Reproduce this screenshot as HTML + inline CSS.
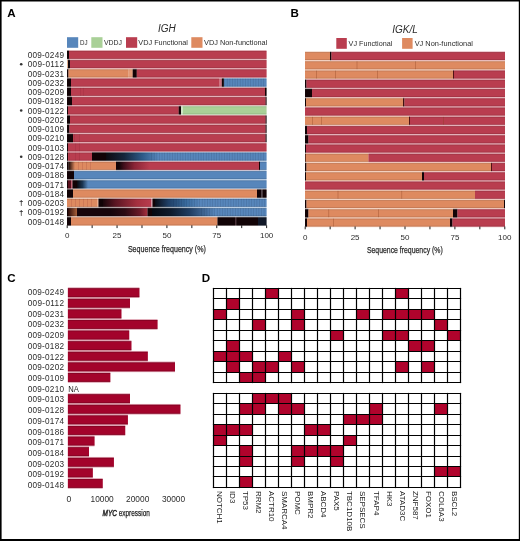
<!DOCTYPE html><html><head><meta charset="utf-8"><style>html,body{margin:0;padding:0;background:#fff;}svg{display:block;will-change:transform;}text{font-family:"Liberation Sans", sans-serif;}</style></head><body><svg width="520" height="541" viewBox="0 0 520 541" font-family='"Liberation Sans", sans-serif'>
<defs><linearGradient id="g12" x1="0" x2="1" y1="0" y2="0"><stop offset="0" stop-color="#0d0a10"/><stop offset="0.35" stop-color="#15263c"/><stop offset="0.7" stop-color="#2e5a88"/><stop offset="1" stop-color="#5786bb"/></linearGradient><linearGradient id="g13" x1="0" x2="1" y1="0" y2="0"><stop offset="0" stop-color="#100407"/><stop offset="0.15" stop-color="#3e0e1a"/><stop offset="0.5" stop-color="#8a2436"/><stop offset="1" stop-color="#b93d4f"/></linearGradient><linearGradient id="g15" x1="0" x2="1" y1="0" y2="0"><stop offset="0" stop-color="#0a0a10"/><stop offset="0.5" stop-color="#1a3552"/><stop offset="1" stop-color="#5786bb"/></linearGradient><linearGradient id="g17a" x1="0" x2="1" y1="0" y2="0"><stop offset="0" stop-color="#1a050a"/><stop offset="0.25" stop-color="#5a1522"/><stop offset="0.7" stop-color="#a5303f"/><stop offset="1" stop-color="#b93d4f"/></linearGradient><linearGradient id="g17b" x1="0" x2="1" y1="0" y2="0"><stop offset="0" stop-color="#0b0d16"/><stop offset="0.3" stop-color="#1f3f66"/><stop offset="0.7" stop-color="#3a6c9f"/><stop offset="1" stop-color="#5786bb"/></linearGradient><linearGradient id="g18a" x1="0" x2="1" y1="0" y2="0"><stop offset="0" stop-color="#14040a"/><stop offset="0.4" stop-color="#2c0a12"/><stop offset="0.8" stop-color="#6a1a28"/><stop offset="1" stop-color="#a8303f"/></linearGradient><linearGradient id="g18b" x1="0" x2="1" y1="0" y2="0"><stop offset="0" stop-color="#050810"/><stop offset="0.3" stop-color="#0d1a2c"/><stop offset="0.6" stop-color="#1f3d62"/><stop offset="1" stop-color="#5786bb"/></linearGradient><linearGradient id="g18c" x1="0" x2="1" y1="0" y2="0"><stop offset="0" stop-color="#2a0a08"/><stop offset="1" stop-color="#a8603a"/></linearGradient><linearGradient id="g13b" x1="0" x2="1" y1="0" y2="0"><stop offset="0" stop-color="#1a0604"/><stop offset="1" stop-color="#de8a60"/></linearGradient></defs>
<rect x="0" y="0" width="520" height="541" fill="#fff"/>
<text x="7.3" y="17.1" font-size="11.6" text-anchor="start" font-weight="bold" fill="#000">A</text>
<text x="166.8" y="31.7" font-size="10" text-anchor="middle" font-style="italic" fill="#2c2c2c">IGH</text>
<rect x="67" y="37.2" width="11.2" height="10.6" fill="#5786bb"/>
<rect x="91.3" y="37.2" width="11.2" height="10.6" fill="#a9d097"/>
<rect x="126" y="37.2" width="11.2" height="10.6" fill="#b93d4f"/>
<rect x="191.3" y="37.2" width="11.2" height="10.6" fill="#de8a60"/>
<text x="80" y="44.6" font-size="7.9" text-anchor="start" fill="#2c2c2c" textLength="7.6" lengthAdjust="spacingAndGlyphs">DJ</text>
<text x="104" y="44.6" font-size="7.9" text-anchor="start" fill="#2c2c2c" textLength="18" lengthAdjust="spacingAndGlyphs">VDDJ</text>
<text x="138.3" y="44.6" font-size="7.9" text-anchor="start" fill="#2c2c2c" textLength="49.6" lengthAdjust="spacingAndGlyphs">VDJ Functional</text>
<text x="204" y="44.6" font-size="7.9" text-anchor="start" fill="#2c2c2c" textLength="63.3" lengthAdjust="spacingAndGlyphs">VDJ Non-functional</text>
<g opacity="0.42">
<rect x="67" y="50.20" width="2.00" height="9.30" fill="#120306"/>
<rect x="69" y="50.20" width="197.50" height="9.30" fill="#b93d4f"/>
</g>
<rect x="67" y="50.90" width="2.00" height="7.9" fill="#120306"/>
<rect x="69" y="50.90" width="197.50" height="7.9" fill="#b93d4f"/>
<rect x="67" y="50.90" width="199.50" height="0.8" fill="#000" opacity="0.13"/>
<rect x="67" y="58.00" width="199.50" height="0.8" fill="#000" opacity="0.13"/>
<text x="64" y="58.20" font-size="8.2" text-anchor="end" fill="#2c2c2c" textLength="36.3" lengthAdjust="spacing">009-0249</text>
<g opacity="0.42">
<rect x="67" y="59.45" width="1.00" height="9.30" fill="#e0b090"/>
<rect x="68" y="59.45" width="2.00" height="9.30" fill="#120306"/>
<rect x="70" y="59.45" width="196.50" height="9.30" fill="#b93d4f"/>
</g>
<rect x="67" y="60.15" width="1.00" height="7.9" fill="#e0b090"/>
<rect x="68" y="60.15" width="2.00" height="7.9" fill="#120306"/>
<rect x="70" y="60.15" width="196.50" height="7.9" fill="#b93d4f"/>
<rect x="67" y="60.15" width="199.50" height="0.8" fill="#000" opacity="0.13"/>
<rect x="67" y="67.25" width="199.50" height="0.8" fill="#000" opacity="0.13"/>
<text x="64" y="67.45" font-size="8.2" text-anchor="end" fill="#2c2c2c" textLength="36.3" lengthAdjust="spacing">009-0112</text>
<circle cx="21.2" cy="64.25" r="1.3" fill="#333"/>
<g opacity="0.42">
<rect x="67" y="68.70" width="1.50" height="9.30" fill="#120306"/>
<rect x="68.5" y="68.70" width="59.70" height="9.30" fill="#de8a60"/>
<rect x="128.2" y="68.70" width="4.50" height="9.30" fill="#e49c78"/>
<rect x="132.7" y="68.70" width="4.10" height="9.30" fill="#120306"/>
<rect x="136.8" y="68.70" width="129.70" height="9.30" fill="#b93d4f"/>
</g>
<rect x="67" y="69.40" width="1.50" height="7.9" fill="#120306"/>
<rect x="68.5" y="69.40" width="59.70" height="7.9" fill="#de8a60"/>
<rect x="128.2" y="69.40" width="4.50" height="7.9" fill="#e49c78"/>
<rect x="132.7" y="69.40" width="4.10" height="7.9" fill="#120306"/>
<rect x="136.8" y="69.40" width="129.70" height="7.9" fill="#b93d4f"/>
<rect x="67" y="69.40" width="199.50" height="0.8" fill="#000" opacity="0.13"/>
<rect x="67" y="76.50" width="199.50" height="0.8" fill="#000" opacity="0.13"/>
<text x="64" y="76.70" font-size="8.2" text-anchor="end" fill="#2c2c2c" textLength="36.3" lengthAdjust="spacing">009-0231</text>
<g opacity="0.42">
<rect x="67" y="77.95" width="4.00" height="9.30" fill="#120306"/>
<rect x="71" y="77.95" width="148.60" height="9.30" fill="#b93d4f"/>
<rect x="219.6" y="77.95" width="2.20" height="9.30" fill="#cf7482"/>
<rect x="221.8" y="77.95" width="2.10" height="9.30" fill="#120306"/>
<rect x="223.9" y="77.95" width="42.60" height="9.30" fill="#5786bb"/>
</g>
<rect x="67" y="78.65" width="4.00" height="7.9" fill="#120306"/>
<rect x="71" y="78.65" width="148.60" height="7.9" fill="#b93d4f"/>
<rect x="219.6" y="78.65" width="2.20" height="7.9" fill="#cf7482"/>
<rect x="221.8" y="78.65" width="2.10" height="7.9" fill="#120306"/>
<rect x="223.9" y="78.65" width="42.60" height="7.9" fill="#5786bb"/>
<rect x="67" y="78.65" width="199.50" height="0.8" fill="#000" opacity="0.13"/>
<rect x="67" y="85.75" width="199.50" height="0.8" fill="#000" opacity="0.13"/>
<rect x="224.30" y="78.65" width="0.7" height="7.9" fill="#0a1a30" opacity="0.16"/>
<rect x="226.90" y="78.65" width="0.7" height="7.9" fill="#0a1a30" opacity="0.16"/>
<rect x="229.50" y="78.65" width="0.7" height="7.9" fill="#0a1a30" opacity="0.16"/>
<rect x="232.10" y="78.65" width="0.7" height="7.9" fill="#0a1a30" opacity="0.16"/>
<rect x="234.70" y="78.65" width="0.7" height="7.9" fill="#0a1a30" opacity="0.16"/>
<rect x="237.30" y="78.65" width="0.7" height="7.9" fill="#0a1a30" opacity="0.16"/>
<rect x="239.90" y="78.65" width="0.7" height="7.9" fill="#0a1a30" opacity="0.16"/>
<rect x="242.50" y="78.65" width="0.7" height="7.9" fill="#0a1a30" opacity="0.16"/>
<rect x="245.10" y="78.65" width="0.7" height="7.9" fill="#0a1a30" opacity="0.16"/>
<rect x="247.70" y="78.65" width="0.7" height="7.9" fill="#0a1a30" opacity="0.16"/>
<rect x="250.30" y="78.65" width="0.7" height="7.9" fill="#0a1a30" opacity="0.16"/>
<rect x="252.90" y="78.65" width="0.7" height="7.9" fill="#0a1a30" opacity="0.16"/>
<rect x="255.50" y="78.65" width="0.7" height="7.9" fill="#0a1a30" opacity="0.16"/>
<rect x="258.10" y="78.65" width="0.7" height="7.9" fill="#0a1a30" opacity="0.16"/>
<rect x="260.70" y="78.65" width="0.7" height="7.9" fill="#0a1a30" opacity="0.16"/>
<rect x="263.30" y="78.65" width="0.7" height="7.9" fill="#0a1a30" opacity="0.16"/>
<text x="64" y="85.95" font-size="8.2" text-anchor="end" fill="#2c2c2c" textLength="36.3" lengthAdjust="spacing">009-0232</text>
<g opacity="0.42">
<rect x="67" y="87.20" width="4.00" height="9.30" fill="#120306"/>
<rect x="71" y="87.20" width="194.00" height="9.30" fill="#b93d4f"/>
<rect x="265" y="87.20" width="1.50" height="9.30" fill="#120306"/>
</g>
<rect x="67" y="87.90" width="4.00" height="7.9" fill="#120306"/>
<rect x="71" y="87.90" width="194.00" height="7.9" fill="#b93d4f"/>
<rect x="265" y="87.90" width="1.50" height="7.9" fill="#120306"/>
<rect x="80" y="87.90" width="0.6" height="7.9" fill="#7a1a28" opacity="0.25"/>
<rect x="83" y="87.90" width="0.6" height="7.9" fill="#7a1a28" opacity="0.25"/>
<rect x="67" y="87.90" width="199.50" height="0.8" fill="#000" opacity="0.13"/>
<rect x="67" y="95.00" width="199.50" height="0.8" fill="#000" opacity="0.13"/>
<text x="64" y="95.20" font-size="8.2" text-anchor="end" fill="#2c2c2c" textLength="36.3" lengthAdjust="spacing">009-0209</text>
<g opacity="0.42">
<rect x="67" y="96.45" width="5.00" height="9.30" fill="#120306"/>
<rect x="72" y="96.45" width="193.60" height="9.30" fill="#b93d4f"/>
<rect x="265.6" y="96.45" width="0.90" height="9.30" fill="#120306"/>
</g>
<rect x="67" y="97.15" width="5.00" height="7.9" fill="#120306"/>
<rect x="72" y="97.15" width="193.60" height="7.9" fill="#b93d4f"/>
<rect x="265.6" y="97.15" width="0.90" height="7.9" fill="#120306"/>
<rect x="67" y="97.15" width="199.50" height="0.8" fill="#000" opacity="0.13"/>
<rect x="67" y="104.25" width="199.50" height="0.8" fill="#000" opacity="0.13"/>
<text x="64" y="104.45" font-size="8.2" text-anchor="end" fill="#2c2c2c" textLength="36.3" lengthAdjust="spacing">009-0182</text>
<g opacity="0.42">
<rect x="67" y="105.70" width="1.00" height="9.30" fill="#120306"/>
<rect x="68" y="105.70" width="110.70" height="9.30" fill="#b93d4f"/>
<rect x="178.7" y="105.70" width="2.30" height="9.30" fill="#120306"/>
<rect x="181" y="105.70" width="2.00" height="9.30" fill="#d0e6c6"/>
<rect x="183" y="105.70" width="83.50" height="9.30" fill="#a9d097"/>
</g>
<rect x="67" y="106.40" width="1.00" height="7.9" fill="#120306"/>
<rect x="68" y="106.40" width="110.70" height="7.9" fill="#b93d4f"/>
<rect x="178.7" y="106.40" width="2.30" height="7.9" fill="#120306"/>
<rect x="181" y="106.40" width="2.00" height="7.9" fill="#d0e6c6"/>
<rect x="183" y="106.40" width="83.50" height="7.9" fill="#a9d097"/>
<rect x="67" y="106.40" width="199.50" height="0.8" fill="#000" opacity="0.13"/>
<rect x="67" y="113.50" width="199.50" height="0.8" fill="#000" opacity="0.13"/>
<text x="64" y="113.70" font-size="8.2" text-anchor="end" fill="#2c2c2c" textLength="36.3" lengthAdjust="spacing">009-0122</text>
<circle cx="21.2" cy="110.50" r="1.3" fill="#333"/>
<g opacity="0.42">
<rect x="67" y="114.95" width="3.00" height="9.30" fill="#120306"/>
<rect x="70" y="114.95" width="195.60" height="9.30" fill="#b93d4f"/>
<rect x="265.6" y="114.95" width="0.90" height="9.30" fill="#120306"/>
</g>
<rect x="67" y="115.65" width="3.00" height="7.9" fill="#120306"/>
<rect x="70" y="115.65" width="195.60" height="7.9" fill="#b93d4f"/>
<rect x="265.6" y="115.65" width="0.90" height="7.9" fill="#120306"/>
<rect x="67" y="115.65" width="199.50" height="0.8" fill="#000" opacity="0.13"/>
<rect x="67" y="122.75" width="199.50" height="0.8" fill="#000" opacity="0.13"/>
<text x="64" y="122.95" font-size="8.2" text-anchor="end" fill="#2c2c2c" textLength="36.3" lengthAdjust="spacing">009-0202</text>
<g opacity="0.42">
<rect x="67" y="124.20" width="2.50" height="9.30" fill="#120306"/>
<rect x="69.5" y="124.20" width="196.10" height="9.30" fill="#b93d4f"/>
<rect x="265.6" y="124.20" width="0.90" height="9.30" fill="#120306"/>
</g>
<rect x="67" y="124.90" width="2.50" height="7.9" fill="#120306"/>
<rect x="69.5" y="124.90" width="196.10" height="7.9" fill="#b93d4f"/>
<rect x="265.6" y="124.90" width="0.90" height="7.9" fill="#120306"/>
<rect x="67" y="124.90" width="199.50" height="0.8" fill="#000" opacity="0.13"/>
<rect x="67" y="132.00" width="199.50" height="0.8" fill="#000" opacity="0.13"/>
<text x="64" y="132.20" font-size="8.2" text-anchor="end" fill="#2c2c2c" textLength="36.3" lengthAdjust="spacing">009-0109</text>
<g opacity="0.42">
<rect x="67" y="133.45" width="6.00" height="9.30" fill="#120306"/>
<rect x="73" y="133.45" width="192.60" height="9.30" fill="#b93d4f"/>
<rect x="265.6" y="133.45" width="0.90" height="9.30" fill="#120306"/>
</g>
<rect x="67" y="134.15" width="6.00" height="7.9" fill="#120306"/>
<rect x="73" y="134.15" width="192.60" height="7.9" fill="#b93d4f"/>
<rect x="265.6" y="134.15" width="0.90" height="7.9" fill="#120306"/>
<rect x="74" y="134.15" width="0.6" height="7.9" fill="#7a1a28" opacity="0.25"/>
<rect x="79" y="134.15" width="0.6" height="7.9" fill="#7a1a28" opacity="0.25"/>
<rect x="67" y="134.15" width="199.50" height="0.8" fill="#000" opacity="0.13"/>
<rect x="67" y="141.25" width="199.50" height="0.8" fill="#000" opacity="0.13"/>
<text x="64" y="141.45" font-size="8.2" text-anchor="end" fill="#2c2c2c" textLength="36.3" lengthAdjust="spacing">009-0210</text>
<g opacity="0.42">
<rect x="67" y="142.70" width="1.00" height="9.30" fill="#120306"/>
<rect x="68" y="142.70" width="198.50" height="9.30" fill="#b93d4f"/>
</g>
<rect x="67" y="143.40" width="1.00" height="7.9" fill="#120306"/>
<rect x="68" y="143.40" width="198.50" height="7.9" fill="#b93d4f"/>
<rect x="75" y="143.40" width="0.6" height="7.9" fill="#7a1a28" opacity="0.25"/>
<rect x="79" y="143.40" width="0.6" height="7.9" fill="#7a1a28" opacity="0.25"/>
<rect x="67" y="143.40" width="199.50" height="0.8" fill="#000" opacity="0.13"/>
<rect x="67" y="150.50" width="199.50" height="0.8" fill="#000" opacity="0.13"/>
<text x="64" y="150.70" font-size="8.2" text-anchor="end" fill="#2c2c2c" textLength="36.3" lengthAdjust="spacing">009-0103</text>
<g opacity="0.42">
<rect x="67" y="151.95" width="1.00" height="9.30" fill="#120306"/>
<rect x="68" y="151.95" width="24.00" height="9.30" fill="#b93d4f"/>
<rect x="92" y="151.95" width="14.00" height="9.30" fill="#120306"/>
<rect x="106" y="151.95" width="52.00" height="9.30" fill="url(#g12)"/>
<rect x="158" y="151.95" width="108.50" height="9.30" fill="#5786bb"/>
</g>
<rect x="67" y="152.65" width="1.00" height="7.9" fill="#120306"/>
<rect x="68" y="152.65" width="24.00" height="7.9" fill="#b93d4f"/>
<rect x="92" y="152.65" width="14.00" height="7.9" fill="#120306"/>
<rect x="106" y="152.65" width="52.00" height="7.9" fill="url(#g12)"/>
<rect x="158" y="152.65" width="108.50" height="7.9" fill="#5786bb"/>
<rect x="69" y="152.65" width="0.6" height="7.9" fill="#7a1a28" opacity="0.25"/>
<rect x="75" y="152.65" width="0.6" height="7.9" fill="#7a1a28" opacity="0.25"/>
<rect x="79" y="152.65" width="0.6" height="7.9" fill="#7a1a28" opacity="0.25"/>
<rect x="67" y="152.65" width="199.50" height="0.8" fill="#000" opacity="0.13"/>
<rect x="67" y="159.75" width="199.50" height="0.8" fill="#000" opacity="0.13"/>
<rect x="151.30" y="152.65" width="0.7" height="7.9" fill="#0a1a30" opacity="0.16"/>
<rect x="153.90" y="152.65" width="0.7" height="7.9" fill="#0a1a30" opacity="0.16"/>
<rect x="156.50" y="152.65" width="0.7" height="7.9" fill="#0a1a30" opacity="0.16"/>
<rect x="159.10" y="152.65" width="0.7" height="7.9" fill="#0a1a30" opacity="0.16"/>
<rect x="161.70" y="152.65" width="0.7" height="7.9" fill="#0a1a30" opacity="0.16"/>
<rect x="164.30" y="152.65" width="0.7" height="7.9" fill="#0a1a30" opacity="0.16"/>
<rect x="166.90" y="152.65" width="0.7" height="7.9" fill="#0a1a30" opacity="0.16"/>
<rect x="169.50" y="152.65" width="0.7" height="7.9" fill="#0a1a30" opacity="0.16"/>
<rect x="172.10" y="152.65" width="0.7" height="7.9" fill="#0a1a30" opacity="0.16"/>
<rect x="174.70" y="152.65" width="0.7" height="7.9" fill="#0a1a30" opacity="0.16"/>
<rect x="177.30" y="152.65" width="0.7" height="7.9" fill="#0a1a30" opacity="0.16"/>
<rect x="179.90" y="152.65" width="0.7" height="7.9" fill="#0a1a30" opacity="0.16"/>
<rect x="182.50" y="152.65" width="0.7" height="7.9" fill="#0a1a30" opacity="0.16"/>
<rect x="185.10" y="152.65" width="0.7" height="7.9" fill="#0a1a30" opacity="0.16"/>
<rect x="187.70" y="152.65" width="0.7" height="7.9" fill="#0a1a30" opacity="0.16"/>
<rect x="190.30" y="152.65" width="0.7" height="7.9" fill="#0a1a30" opacity="0.16"/>
<rect x="192.90" y="152.65" width="0.7" height="7.9" fill="#0a1a30" opacity="0.16"/>
<rect x="195.50" y="152.65" width="0.7" height="7.9" fill="#0a1a30" opacity="0.16"/>
<rect x="198.10" y="152.65" width="0.7" height="7.9" fill="#0a1a30" opacity="0.16"/>
<rect x="200.70" y="152.65" width="0.7" height="7.9" fill="#0a1a30" opacity="0.16"/>
<rect x="203.30" y="152.65" width="0.7" height="7.9" fill="#0a1a30" opacity="0.16"/>
<rect x="205.90" y="152.65" width="0.7" height="7.9" fill="#0a1a30" opacity="0.16"/>
<rect x="208.50" y="152.65" width="0.7" height="7.9" fill="#0a1a30" opacity="0.16"/>
<rect x="211.10" y="152.65" width="0.7" height="7.9" fill="#0a1a30" opacity="0.16"/>
<rect x="213.70" y="152.65" width="0.7" height="7.9" fill="#0a1a30" opacity="0.16"/>
<rect x="216.30" y="152.65" width="0.7" height="7.9" fill="#0a1a30" opacity="0.16"/>
<rect x="218.90" y="152.65" width="0.7" height="7.9" fill="#0a1a30" opacity="0.16"/>
<rect x="221.50" y="152.65" width="0.7" height="7.9" fill="#0a1a30" opacity="0.16"/>
<rect x="224.10" y="152.65" width="0.7" height="7.9" fill="#0a1a30" opacity="0.16"/>
<rect x="226.70" y="152.65" width="0.7" height="7.9" fill="#0a1a30" opacity="0.16"/>
<rect x="229.30" y="152.65" width="0.7" height="7.9" fill="#0a1a30" opacity="0.16"/>
<rect x="231.90" y="152.65" width="0.7" height="7.9" fill="#0a1a30" opacity="0.16"/>
<rect x="234.50" y="152.65" width="0.7" height="7.9" fill="#0a1a30" opacity="0.16"/>
<rect x="237.10" y="152.65" width="0.7" height="7.9" fill="#0a1a30" opacity="0.16"/>
<rect x="239.70" y="152.65" width="0.7" height="7.9" fill="#0a1a30" opacity="0.16"/>
<rect x="242.30" y="152.65" width="0.7" height="7.9" fill="#0a1a30" opacity="0.16"/>
<rect x="244.90" y="152.65" width="0.7" height="7.9" fill="#0a1a30" opacity="0.16"/>
<rect x="247.50" y="152.65" width="0.7" height="7.9" fill="#0a1a30" opacity="0.16"/>
<rect x="250.10" y="152.65" width="0.7" height="7.9" fill="#0a1a30" opacity="0.16"/>
<rect x="252.70" y="152.65" width="0.7" height="7.9" fill="#0a1a30" opacity="0.16"/>
<rect x="255.30" y="152.65" width="0.7" height="7.9" fill="#0a1a30" opacity="0.16"/>
<rect x="257.90" y="152.65" width="0.7" height="7.9" fill="#0a1a30" opacity="0.16"/>
<rect x="260.50" y="152.65" width="0.7" height="7.9" fill="#0a1a30" opacity="0.16"/>
<rect x="263.10" y="152.65" width="0.7" height="7.9" fill="#0a1a30" opacity="0.16"/>
<text x="64" y="159.95" font-size="8.2" text-anchor="end" fill="#2c2c2c" textLength="36.3" lengthAdjust="spacing">009-0128</text>
<circle cx="21.2" cy="156.75" r="1.3" fill="#333"/>
<g opacity="0.42">
<rect x="67" y="161.20" width="1.50" height="9.30" fill="#120306"/>
<rect x="68.5" y="161.20" width="6.50" height="9.30" fill="url(#g13b)"/>
<rect x="75" y="161.20" width="41.00" height="9.30" fill="#de8a60"/>
<rect x="116" y="161.20" width="3.00" height="9.30" fill="#120306"/>
<rect x="119" y="161.20" width="31.00" height="9.30" fill="url(#g13)"/>
<rect x="150" y="161.20" width="109.00" height="9.30" fill="#b93d4f"/>
<rect x="259" y="161.20" width="1.00" height="9.30" fill="#120306"/>
<rect x="260" y="161.20" width="6.50" height="9.30" fill="#5786bb"/>
</g>
<rect x="67" y="161.90" width="1.50" height="7.9" fill="#120306"/>
<rect x="68.5" y="161.90" width="6.50" height="7.9" fill="url(#g13b)"/>
<rect x="75" y="161.90" width="41.00" height="7.9" fill="#de8a60"/>
<rect x="116" y="161.90" width="3.00" height="7.9" fill="#120306"/>
<rect x="119" y="161.90" width="31.00" height="7.9" fill="url(#g13)"/>
<rect x="150" y="161.90" width="109.00" height="7.9" fill="#b93d4f"/>
<rect x="259" y="161.90" width="1.00" height="7.9" fill="#120306"/>
<rect x="260" y="161.90" width="6.50" height="7.9" fill="#5786bb"/>
<rect x="78" y="161.90" width="0.6" height="7.9" fill="#7a1a28" opacity="0.25"/>
<rect x="82" y="161.90" width="0.6" height="7.9" fill="#7a1a28" opacity="0.25"/>
<rect x="86" y="161.90" width="0.6" height="7.9" fill="#7a1a28" opacity="0.25"/>
<rect x="90" y="161.90" width="0.6" height="7.9" fill="#7a1a28" opacity="0.25"/>
<rect x="67" y="161.90" width="199.50" height="0.8" fill="#000" opacity="0.13"/>
<rect x="67" y="169.00" width="199.50" height="0.8" fill="#000" opacity="0.13"/>
<text x="64" y="169.20" font-size="8.2" text-anchor="end" fill="#2c2c2c" textLength="36.3" lengthAdjust="spacing">009-0174</text>
<g opacity="0.42">
<rect x="67" y="170.45" width="7.00" height="9.30" fill="#120306"/>
<rect x="74" y="170.45" width="192.50" height="9.30" fill="#5786bb"/>
</g>
<rect x="67" y="171.15" width="7.00" height="7.9" fill="#120306"/>
<rect x="74" y="171.15" width="192.50" height="7.9" fill="#5786bb"/>
<rect x="67" y="171.15" width="199.50" height="0.8" fill="#000" opacity="0.13"/>
<rect x="67" y="178.25" width="199.50" height="0.8" fill="#000" opacity="0.13"/>
<text x="64" y="178.45" font-size="8.2" text-anchor="end" fill="#2c2c2c" textLength="36.3" lengthAdjust="spacing">009-0186</text>
<g opacity="0.42">
<rect x="67" y="179.70" width="1.00" height="9.30" fill="#120306"/>
<rect x="68" y="179.70" width="3.00" height="9.30" fill="#5a0f1c"/>
<rect x="71" y="179.70" width="1.50" height="9.30" fill="#c06070"/>
<rect x="72.5" y="179.70" width="4.50" height="9.30" fill="#120306"/>
<rect x="77" y="179.70" width="11.00" height="9.30" fill="url(#g15)"/>
<rect x="88" y="179.70" width="178.50" height="9.30" fill="#5786bb"/>
</g>
<rect x="67" y="180.40" width="1.00" height="7.9" fill="#120306"/>
<rect x="68" y="180.40" width="3.00" height="7.9" fill="#5a0f1c"/>
<rect x="71" y="180.40" width="1.50" height="7.9" fill="#c06070"/>
<rect x="72.5" y="180.40" width="4.50" height="7.9" fill="#120306"/>
<rect x="77" y="180.40" width="11.00" height="7.9" fill="url(#g15)"/>
<rect x="88" y="180.40" width="178.50" height="7.9" fill="#5786bb"/>
<rect x="67" y="180.40" width="199.50" height="0.8" fill="#000" opacity="0.13"/>
<rect x="67" y="187.50" width="199.50" height="0.8" fill="#000" opacity="0.13"/>
<text x="64" y="187.70" font-size="8.2" text-anchor="end" fill="#2c2c2c" textLength="36.3" lengthAdjust="spacing">009-0171</text>
<g opacity="0.42">
<rect x="67" y="188.95" width="6.00" height="9.30" fill="#120306"/>
<rect x="73" y="188.95" width="184.00" height="9.30" fill="#de8a60"/>
<rect x="257" y="188.95" width="4.50" height="9.30" fill="#120306"/>
<rect x="261.5" y="188.95" width="1.00" height="9.30" fill="#403038"/>
<rect x="262.5" y="188.95" width="4.00" height="9.30" fill="#120306"/>
</g>
<rect x="67" y="189.65" width="6.00" height="7.9" fill="#120306"/>
<rect x="73" y="189.65" width="184.00" height="7.9" fill="#de8a60"/>
<rect x="257" y="189.65" width="4.50" height="7.9" fill="#120306"/>
<rect x="261.5" y="189.65" width="1.00" height="7.9" fill="#403038"/>
<rect x="262.5" y="189.65" width="4.00" height="7.9" fill="#120306"/>
<rect x="67" y="189.65" width="199.50" height="0.8" fill="#000" opacity="0.13"/>
<rect x="67" y="196.75" width="199.50" height="0.8" fill="#000" opacity="0.13"/>
<text x="64" y="196.95" font-size="8.2" text-anchor="end" fill="#2c2c2c" textLength="36.3" lengthAdjust="spacing">009-0184</text>
<g opacity="0.42">
<rect x="67" y="198.20" width="30.00" height="9.30" fill="#de8a60"/>
<rect x="97" y="198.20" width="1.50" height="9.30" fill="#f0b090"/>
<rect x="98.5" y="198.20" width="4.50" height="9.30" fill="#120306"/>
<rect x="103" y="198.20" width="48.50" height="9.30" fill="url(#g17a)"/>
<rect x="151.5" y="198.20" width="1.00" height="9.30" fill="#e0a0b0"/>
<rect x="152.5" y="198.20" width="2.50" height="9.30" fill="#120306"/>
<rect x="155" y="198.20" width="45.00" height="9.30" fill="url(#g17b)"/>
<rect x="200" y="198.20" width="66.50" height="9.30" fill="#5786bb"/>
</g>
<rect x="67" y="198.90" width="30.00" height="7.9" fill="#de8a60"/>
<rect x="97" y="198.90" width="1.50" height="7.9" fill="#f0b090"/>
<rect x="98.5" y="198.90" width="4.50" height="7.9" fill="#120306"/>
<rect x="103" y="198.90" width="48.50" height="7.9" fill="url(#g17a)"/>
<rect x="151.5" y="198.90" width="1.00" height="7.9" fill="#e0a0b0"/>
<rect x="152.5" y="198.90" width="2.50" height="7.9" fill="#120306"/>
<rect x="155" y="198.90" width="45.00" height="7.9" fill="url(#g17b)"/>
<rect x="200" y="198.90" width="66.50" height="7.9" fill="#5786bb"/>
<rect x="71" y="198.90" width="0.6" height="7.9" fill="#7a1a28" opacity="0.25"/>
<rect x="75" y="198.90" width="0.6" height="7.9" fill="#7a1a28" opacity="0.25"/>
<rect x="79" y="198.90" width="0.6" height="7.9" fill="#7a1a28" opacity="0.25"/>
<rect x="83" y="198.90" width="0.6" height="7.9" fill="#7a1a28" opacity="0.25"/>
<rect x="87" y="198.90" width="0.6" height="7.9" fill="#7a1a28" opacity="0.25"/>
<rect x="91" y="198.90" width="0.6" height="7.9" fill="#7a1a28" opacity="0.25"/>
<rect x="67" y="198.90" width="199.50" height="0.8" fill="#000" opacity="0.13"/>
<rect x="67" y="206.00" width="199.50" height="0.8" fill="#000" opacity="0.13"/>
<rect x="173.30" y="198.90" width="0.7" height="7.9" fill="#0a1a30" opacity="0.16"/>
<rect x="175.90" y="198.90" width="0.7" height="7.9" fill="#0a1a30" opacity="0.16"/>
<rect x="178.50" y="198.90" width="0.7" height="7.9" fill="#0a1a30" opacity="0.16"/>
<rect x="181.10" y="198.90" width="0.7" height="7.9" fill="#0a1a30" opacity="0.16"/>
<rect x="183.70" y="198.90" width="0.7" height="7.9" fill="#0a1a30" opacity="0.16"/>
<rect x="186.30" y="198.90" width="0.7" height="7.9" fill="#0a1a30" opacity="0.16"/>
<rect x="188.90" y="198.90" width="0.7" height="7.9" fill="#0a1a30" opacity="0.16"/>
<rect x="191.50" y="198.90" width="0.7" height="7.9" fill="#0a1a30" opacity="0.16"/>
<rect x="194.10" y="198.90" width="0.7" height="7.9" fill="#0a1a30" opacity="0.16"/>
<rect x="196.70" y="198.90" width="0.7" height="7.9" fill="#0a1a30" opacity="0.16"/>
<rect x="199.30" y="198.90" width="0.7" height="7.9" fill="#0a1a30" opacity="0.16"/>
<rect x="201.90" y="198.90" width="0.7" height="7.9" fill="#0a1a30" opacity="0.16"/>
<rect x="204.50" y="198.90" width="0.7" height="7.9" fill="#0a1a30" opacity="0.16"/>
<rect x="207.10" y="198.90" width="0.7" height="7.9" fill="#0a1a30" opacity="0.16"/>
<rect x="209.70" y="198.90" width="0.7" height="7.9" fill="#0a1a30" opacity="0.16"/>
<rect x="212.30" y="198.90" width="0.7" height="7.9" fill="#0a1a30" opacity="0.16"/>
<rect x="214.90" y="198.90" width="0.7" height="7.9" fill="#0a1a30" opacity="0.16"/>
<rect x="217.50" y="198.90" width="0.7" height="7.9" fill="#0a1a30" opacity="0.16"/>
<rect x="220.10" y="198.90" width="0.7" height="7.9" fill="#0a1a30" opacity="0.16"/>
<rect x="222.70" y="198.90" width="0.7" height="7.9" fill="#0a1a30" opacity="0.16"/>
<rect x="225.30" y="198.90" width="0.7" height="7.9" fill="#0a1a30" opacity="0.16"/>
<rect x="227.90" y="198.90" width="0.7" height="7.9" fill="#0a1a30" opacity="0.16"/>
<rect x="230.50" y="198.90" width="0.7" height="7.9" fill="#0a1a30" opacity="0.16"/>
<rect x="233.10" y="198.90" width="0.7" height="7.9" fill="#0a1a30" opacity="0.16"/>
<rect x="235.70" y="198.90" width="0.7" height="7.9" fill="#0a1a30" opacity="0.16"/>
<rect x="238.30" y="198.90" width="0.7" height="7.9" fill="#0a1a30" opacity="0.16"/>
<rect x="240.90" y="198.90" width="0.7" height="7.9" fill="#0a1a30" opacity="0.16"/>
<rect x="243.50" y="198.90" width="0.7" height="7.9" fill="#0a1a30" opacity="0.16"/>
<rect x="246.10" y="198.90" width="0.7" height="7.9" fill="#0a1a30" opacity="0.16"/>
<rect x="248.70" y="198.90" width="0.7" height="7.9" fill="#0a1a30" opacity="0.16"/>
<rect x="251.30" y="198.90" width="0.7" height="7.9" fill="#0a1a30" opacity="0.16"/>
<rect x="253.90" y="198.90" width="0.7" height="7.9" fill="#0a1a30" opacity="0.16"/>
<rect x="256.50" y="198.90" width="0.7" height="7.9" fill="#0a1a30" opacity="0.16"/>
<rect x="259.10" y="198.90" width="0.7" height="7.9" fill="#0a1a30" opacity="0.16"/>
<rect x="261.70" y="198.90" width="0.7" height="7.9" fill="#0a1a30" opacity="0.16"/>
<rect x="264.30" y="198.90" width="0.7" height="7.9" fill="#0a1a30" opacity="0.16"/>
<text x="64" y="206.20" font-size="8.2" text-anchor="end" fill="#2c2c2c" textLength="36.3" lengthAdjust="spacing">009-0203</text>
<text x="21.3" y="205.40" font-size="8" text-anchor="middle" font-weight="bold" fill="#2c2c2c">†</text>
<g opacity="0.42">
<rect x="67" y="207.45" width="1.00" height="9.30" fill="#120306"/>
<rect x="68" y="207.45" width="9.00" height="9.30" fill="url(#g18c)"/>
<rect x="77" y="207.45" width="33.00" height="9.30" fill="#16040a"/>
<rect x="110" y="207.45" width="37.50" height="9.30" fill="url(#g18a)"/>
<rect x="147.5" y="207.45" width="4.50" height="9.30" fill="#120306"/>
<rect x="152" y="207.45" width="63.00" height="9.30" fill="url(#g18b)"/>
<rect x="215" y="207.45" width="51.50" height="9.30" fill="#5786bb"/>
</g>
<rect x="67" y="208.15" width="1.00" height="7.9" fill="#120306"/>
<rect x="68" y="208.15" width="9.00" height="7.9" fill="url(#g18c)"/>
<rect x="77" y="208.15" width="33.00" height="7.9" fill="#16040a"/>
<rect x="110" y="208.15" width="37.50" height="7.9" fill="url(#g18a)"/>
<rect x="147.5" y="208.15" width="4.50" height="7.9" fill="#120306"/>
<rect x="152" y="208.15" width="63.00" height="7.9" fill="url(#g18b)"/>
<rect x="215" y="208.15" width="51.50" height="7.9" fill="#5786bb"/>
<rect x="67" y="208.15" width="199.50" height="0.8" fill="#000" opacity="0.13"/>
<rect x="67" y="215.25" width="199.50" height="0.8" fill="#000" opacity="0.13"/>
<rect x="201.30" y="208.15" width="0.7" height="7.9" fill="#0a1a30" opacity="0.16"/>
<rect x="203.90" y="208.15" width="0.7" height="7.9" fill="#0a1a30" opacity="0.16"/>
<rect x="206.50" y="208.15" width="0.7" height="7.9" fill="#0a1a30" opacity="0.16"/>
<rect x="209.10" y="208.15" width="0.7" height="7.9" fill="#0a1a30" opacity="0.16"/>
<rect x="211.70" y="208.15" width="0.7" height="7.9" fill="#0a1a30" opacity="0.16"/>
<rect x="214.30" y="208.15" width="0.7" height="7.9" fill="#0a1a30" opacity="0.16"/>
<rect x="216.90" y="208.15" width="0.7" height="7.9" fill="#0a1a30" opacity="0.16"/>
<rect x="219.50" y="208.15" width="0.7" height="7.9" fill="#0a1a30" opacity="0.16"/>
<rect x="222.10" y="208.15" width="0.7" height="7.9" fill="#0a1a30" opacity="0.16"/>
<rect x="224.70" y="208.15" width="0.7" height="7.9" fill="#0a1a30" opacity="0.16"/>
<rect x="227.30" y="208.15" width="0.7" height="7.9" fill="#0a1a30" opacity="0.16"/>
<rect x="229.90" y="208.15" width="0.7" height="7.9" fill="#0a1a30" opacity="0.16"/>
<rect x="232.50" y="208.15" width="0.7" height="7.9" fill="#0a1a30" opacity="0.16"/>
<rect x="235.10" y="208.15" width="0.7" height="7.9" fill="#0a1a30" opacity="0.16"/>
<rect x="237.70" y="208.15" width="0.7" height="7.9" fill="#0a1a30" opacity="0.16"/>
<rect x="240.30" y="208.15" width="0.7" height="7.9" fill="#0a1a30" opacity="0.16"/>
<rect x="242.90" y="208.15" width="0.7" height="7.9" fill="#0a1a30" opacity="0.16"/>
<rect x="245.50" y="208.15" width="0.7" height="7.9" fill="#0a1a30" opacity="0.16"/>
<rect x="248.10" y="208.15" width="0.7" height="7.9" fill="#0a1a30" opacity="0.16"/>
<rect x="250.70" y="208.15" width="0.7" height="7.9" fill="#0a1a30" opacity="0.16"/>
<rect x="253.30" y="208.15" width="0.7" height="7.9" fill="#0a1a30" opacity="0.16"/>
<rect x="255.90" y="208.15" width="0.7" height="7.9" fill="#0a1a30" opacity="0.16"/>
<rect x="258.50" y="208.15" width="0.7" height="7.9" fill="#0a1a30" opacity="0.16"/>
<rect x="261.10" y="208.15" width="0.7" height="7.9" fill="#0a1a30" opacity="0.16"/>
<rect x="263.70" y="208.15" width="0.7" height="7.9" fill="#0a1a30" opacity="0.16"/>
<text x="64" y="215.45" font-size="8.2" text-anchor="end" fill="#2c2c2c" textLength="36.3" lengthAdjust="spacing">009-0192</text>
<text x="21.3" y="214.65" font-size="8" text-anchor="middle" font-weight="bold" fill="#2c2c2c">†</text>
<g opacity="0.42">
<rect x="67" y="216.70" width="4.00" height="9.30" fill="#120306"/>
<rect x="71" y="216.70" width="146.50" height="9.30" fill="#de8a60"/>
<rect x="217.5" y="216.70" width="17.50" height="9.30" fill="#120306"/>
<rect x="235" y="216.70" width="1.20" height="9.30" fill="#4a3038"/>
<rect x="236.2" y="216.70" width="21.80" height="9.30" fill="#120306"/>
<rect x="258" y="216.70" width="8.50" height="9.30" fill="#101828"/>
</g>
<rect x="67" y="217.40" width="4.00" height="7.9" fill="#120306"/>
<rect x="71" y="217.40" width="146.50" height="7.9" fill="#de8a60"/>
<rect x="217.5" y="217.40" width="17.50" height="7.9" fill="#120306"/>
<rect x="235" y="217.40" width="1.20" height="7.9" fill="#4a3038"/>
<rect x="236.2" y="217.40" width="21.80" height="7.9" fill="#120306"/>
<rect x="258" y="217.40" width="8.50" height="7.9" fill="#101828"/>
<rect x="67" y="217.40" width="199.50" height="0.8" fill="#000" opacity="0.13"/>
<rect x="67" y="224.50" width="199.50" height="0.8" fill="#000" opacity="0.13"/>
<text x="64" y="224.70" font-size="8.2" text-anchor="end" fill="#2c2c2c" textLength="36.3" lengthAdjust="spacing">009-0148</text>
<line x1="67.20" y1="225.30" x2="67.20" y2="228.10" stroke="#000" stroke-width="0.9"/>
<line x1="92.13" y1="225.30" x2="92.13" y2="228.10" stroke="#000" stroke-width="0.9"/>
<line x1="117.06" y1="225.30" x2="117.06" y2="228.10" stroke="#000" stroke-width="0.9"/>
<line x1="141.99" y1="225.30" x2="141.99" y2="228.10" stroke="#000" stroke-width="0.9"/>
<line x1="166.92" y1="225.30" x2="166.92" y2="228.10" stroke="#000" stroke-width="0.9"/>
<line x1="191.85" y1="225.30" x2="191.85" y2="228.10" stroke="#000" stroke-width="0.9"/>
<line x1="216.78" y1="225.30" x2="216.78" y2="228.10" stroke="#000" stroke-width="0.9"/>
<line x1="241.71" y1="225.30" x2="241.71" y2="228.10" stroke="#000" stroke-width="0.9"/>
<line x1="266.64" y1="225.30" x2="266.64" y2="228.10" stroke="#000" stroke-width="0.9"/>
<text x="67.20" y="237.8" font-size="8.0" text-anchor="middle" fill="#2c2c2c">0</text>
<text x="117.06" y="237.8" font-size="8.0" text-anchor="middle" fill="#2c2c2c">25</text>
<text x="166.92" y="237.8" font-size="8.0" text-anchor="middle" fill="#2c2c2c">50</text>
<text x="216.78" y="237.8" font-size="8.0" text-anchor="middle" fill="#2c2c2c">75</text>
<text x="266.64" y="237.8" font-size="8.0" text-anchor="middle" fill="#2c2c2c">100</text>
<text x="166.9" y="251.6" font-size="9.6" text-anchor="middle" fill="#2c2c2c" textLength="78" lengthAdjust="spacingAndGlyphs" stroke="#222" stroke-width="0.25">Sequence frequency (%)</text>
<text x="290.5" y="16.9" font-size="11.6" text-anchor="start" font-weight="bold" fill="#000">B</text>
<text x="405" y="33.2" font-size="10" text-anchor="middle" font-style="italic" fill="#2c2c2c">IGK/L</text>
<rect x="336.3" y="38.0" width="10.5" height="10.8" fill="#b93d4f"/>
<rect x="402.1" y="38.0" width="10.5" height="10.8" fill="#de8a60"/>
<text x="348.6" y="45.9" font-size="7.9" text-anchor="start" fill="#2c2c2c" textLength="43.7" lengthAdjust="spacingAndGlyphs">VJ Functional</text>
<text x="414.7" y="45.9" font-size="7.9" text-anchor="start" fill="#2c2c2c" textLength="58.3" lengthAdjust="spacingAndGlyphs">VJ Non-functional</text>
<g opacity="0.42">
<rect x="305" y="51.40" width="25.00" height="9.30" fill="#de8a60"/>
<rect x="330" y="51.40" width="1.50" height="9.30" fill="#120306"/>
<rect x="331.5" y="51.40" width="173.50" height="9.30" fill="#b93d4f"/>
</g>
<rect x="305" y="52.10" width="25.00" height="7.9" fill="#de8a60"/>
<rect x="330" y="52.10" width="1.50" height="7.9" fill="#120306"/>
<rect x="331.5" y="52.10" width="173.50" height="7.9" fill="#b93d4f"/>
<rect x="305" y="52.10" width="200.00" height="0.8" fill="#000" opacity="0.13"/>
<rect x="305" y="59.20" width="200.00" height="0.8" fill="#000" opacity="0.13"/>
<g opacity="0.42">
<rect x="305" y="60.65" width="200.00" height="9.30" fill="#de8a60"/>
</g>
<rect x="305" y="61.35" width="200.00" height="7.9" fill="#de8a60"/>
<rect x="356.7" y="61.35" width="0.6" height="7.9" fill="#8a4020" opacity="0.55"/>
<rect x="415" y="61.35" width="0.6" height="7.9" fill="#8a4020" opacity="0.55"/>
<rect x="305" y="61.35" width="200.00" height="0.8" fill="#000" opacity="0.13"/>
<rect x="305" y="68.45" width="200.00" height="0.8" fill="#000" opacity="0.13"/>
<g opacity="0.42">
<rect x="305" y="69.90" width="148.00" height="9.30" fill="#de8a60"/>
<rect x="453" y="69.90" width="1.00" height="9.30" fill="#501015"/>
<rect x="454" y="69.90" width="51.00" height="9.30" fill="#b93d4f"/>
</g>
<rect x="305" y="70.60" width="148.00" height="7.9" fill="#de8a60"/>
<rect x="453" y="70.60" width="1.00" height="7.9" fill="#501015"/>
<rect x="454" y="70.60" width="51.00" height="7.9" fill="#b93d4f"/>
<rect x="316" y="70.60" width="0.6" height="7.9" fill="#8a4020" opacity="0.55"/>
<rect x="335" y="70.60" width="0.6" height="7.9" fill="#8a4020" opacity="0.55"/>
<rect x="377" y="70.60" width="0.6" height="7.9" fill="#8a4020" opacity="0.55"/>
<rect x="305" y="70.60" width="200.00" height="0.8" fill="#000" opacity="0.13"/>
<rect x="305" y="77.70" width="200.00" height="0.8" fill="#000" opacity="0.13"/>
<g opacity="0.42">
<rect x="305" y="79.15" width="1.50" height="9.30" fill="#120306"/>
<rect x="306.5" y="79.15" width="198.50" height="9.30" fill="#b93d4f"/>
</g>
<rect x="305" y="79.85" width="1.50" height="7.9" fill="#120306"/>
<rect x="306.5" y="79.85" width="198.50" height="7.9" fill="#b93d4f"/>
<rect x="305" y="79.85" width="200.00" height="0.8" fill="#000" opacity="0.13"/>
<rect x="305" y="86.95" width="200.00" height="0.8" fill="#000" opacity="0.13"/>
<g opacity="0.42">
<rect x="305" y="88.40" width="7.00" height="9.30" fill="#120306"/>
<rect x="312" y="88.40" width="193.00" height="9.30" fill="#b93d4f"/>
</g>
<rect x="305" y="89.10" width="7.00" height="7.9" fill="#120306"/>
<rect x="312" y="89.10" width="193.00" height="7.9" fill="#b93d4f"/>
<rect x="305" y="89.10" width="200.00" height="0.8" fill="#000" opacity="0.13"/>
<rect x="305" y="96.20" width="200.00" height="0.8" fill="#000" opacity="0.13"/>
<g opacity="0.42">
<rect x="305" y="97.65" width="1.00" height="9.30" fill="#120306"/>
<rect x="306" y="97.65" width="97.00" height="9.30" fill="#de8a60"/>
<rect x="403" y="97.65" width="1.50" height="9.30" fill="#401010"/>
<rect x="404.5" y="97.65" width="100.50" height="9.30" fill="#b93d4f"/>
</g>
<rect x="305" y="98.35" width="1.00" height="7.9" fill="#120306"/>
<rect x="306" y="98.35" width="97.00" height="7.9" fill="#de8a60"/>
<rect x="403" y="98.35" width="1.50" height="7.9" fill="#401010"/>
<rect x="404.5" y="98.35" width="100.50" height="7.9" fill="#b93d4f"/>
<rect x="305" y="98.35" width="200.00" height="0.8" fill="#000" opacity="0.13"/>
<rect x="305" y="105.45" width="200.00" height="0.8" fill="#000" opacity="0.13"/>
<g opacity="0.42">
<rect x="305" y="106.90" width="200.00" height="9.30" fill="#b93d4f"/>
</g>
<rect x="305" y="107.60" width="200.00" height="7.9" fill="#b93d4f"/>
<rect x="305" y="107.60" width="200.00" height="0.8" fill="#000" opacity="0.13"/>
<rect x="305" y="114.70" width="200.00" height="0.8" fill="#000" opacity="0.13"/>
<g opacity="0.42">
<rect x="305" y="116.15" width="104.00" height="9.30" fill="#de8a60"/>
<rect x="409" y="116.15" width="1.00" height="9.30" fill="#501015"/>
<rect x="410" y="116.15" width="95.00" height="9.30" fill="#b93d4f"/>
</g>
<rect x="305" y="116.85" width="104.00" height="7.9" fill="#de8a60"/>
<rect x="409" y="116.85" width="1.00" height="7.9" fill="#501015"/>
<rect x="410" y="116.85" width="95.00" height="7.9" fill="#b93d4f"/>
<rect x="312" y="116.85" width="0.6" height="7.9" fill="#8a4020" opacity="0.55"/>
<rect x="321" y="116.85" width="0.6" height="7.9" fill="#8a4020" opacity="0.55"/>
<rect x="443" y="116.85" width="0.6" height="7.9" fill="#8a4020" opacity="0.55"/>
<rect x="305" y="116.85" width="200.00" height="0.8" fill="#000" opacity="0.13"/>
<rect x="305" y="123.95" width="200.00" height="0.8" fill="#000" opacity="0.13"/>
<g opacity="0.42">
<rect x="305" y="125.40" width="2.00" height="9.30" fill="#120306"/>
<rect x="307" y="125.40" width="198.00" height="9.30" fill="#b93d4f"/>
</g>
<rect x="305" y="126.10" width="2.00" height="7.9" fill="#120306"/>
<rect x="307" y="126.10" width="198.00" height="7.9" fill="#b93d4f"/>
<rect x="305" y="126.10" width="200.00" height="0.8" fill="#000" opacity="0.13"/>
<rect x="305" y="133.20" width="200.00" height="0.8" fill="#000" opacity="0.13"/>
<g opacity="0.42">
<rect x="305" y="134.65" width="3.50" height="9.30" fill="#120306"/>
<rect x="308.5" y="134.65" width="196.50" height="9.30" fill="#b93d4f"/>
</g>
<rect x="305" y="135.35" width="3.50" height="7.9" fill="#120306"/>
<rect x="308.5" y="135.35" width="196.50" height="7.9" fill="#b93d4f"/>
<rect x="305" y="135.35" width="200.00" height="0.8" fill="#000" opacity="0.13"/>
<rect x="305" y="142.45" width="200.00" height="0.8" fill="#000" opacity="0.13"/>
<g opacity="0.42">
<rect x="305" y="143.90" width="1.00" height="9.30" fill="#120306"/>
<rect x="306" y="143.90" width="199.00" height="9.30" fill="#b93d4f"/>
</g>
<rect x="305" y="144.60" width="1.00" height="7.9" fill="#120306"/>
<rect x="306" y="144.60" width="199.00" height="7.9" fill="#b93d4f"/>
<rect x="305" y="144.60" width="200.00" height="0.8" fill="#000" opacity="0.13"/>
<rect x="305" y="151.70" width="200.00" height="0.8" fill="#000" opacity="0.13"/>
<g opacity="0.42">
<rect x="305" y="153.15" width="1.00" height="9.30" fill="#603020"/>
<rect x="306" y="153.15" width="62.50" height="9.30" fill="#de8a60"/>
<rect x="368.5" y="153.15" width="136.50" height="9.30" fill="#b93d4f"/>
</g>
<rect x="305" y="153.85" width="1.00" height="7.9" fill="#603020"/>
<rect x="306" y="153.85" width="62.50" height="7.9" fill="#de8a60"/>
<rect x="368.5" y="153.85" width="136.50" height="7.9" fill="#b93d4f"/>
<rect x="305" y="153.85" width="200.00" height="0.8" fill="#000" opacity="0.13"/>
<rect x="305" y="160.95" width="200.00" height="0.8" fill="#000" opacity="0.13"/>
<g opacity="0.42">
<rect x="305" y="162.40" width="1.50" height="9.30" fill="#120306"/>
<rect x="306.5" y="162.40" width="184.50" height="9.30" fill="#de8a60"/>
<rect x="491" y="162.40" width="1.00" height="9.30" fill="#501015"/>
<rect x="492" y="162.40" width="13.00" height="9.30" fill="#b93d4f"/>
</g>
<rect x="305" y="163.10" width="1.50" height="7.9" fill="#120306"/>
<rect x="306.5" y="163.10" width="184.50" height="7.9" fill="#de8a60"/>
<rect x="491" y="163.10" width="1.00" height="7.9" fill="#501015"/>
<rect x="492" y="163.10" width="13.00" height="7.9" fill="#b93d4f"/>
<rect x="305" y="163.10" width="200.00" height="0.8" fill="#000" opacity="0.13"/>
<rect x="305" y="170.20" width="200.00" height="0.8" fill="#000" opacity="0.13"/>
<g opacity="0.42">
<rect x="305" y="171.65" width="1.00" height="9.30" fill="#120306"/>
<rect x="306" y="171.65" width="116.00" height="9.30" fill="#de8a60"/>
<rect x="422" y="171.65" width="2.00" height="9.30" fill="#120306"/>
<rect x="424" y="171.65" width="81.00" height="9.30" fill="#b93d4f"/>
</g>
<rect x="305" y="172.35" width="1.00" height="7.9" fill="#120306"/>
<rect x="306" y="172.35" width="116.00" height="7.9" fill="#de8a60"/>
<rect x="422" y="172.35" width="2.00" height="7.9" fill="#120306"/>
<rect x="424" y="172.35" width="81.00" height="7.9" fill="#b93d4f"/>
<rect x="305" y="172.35" width="200.00" height="0.8" fill="#000" opacity="0.13"/>
<rect x="305" y="179.45" width="200.00" height="0.8" fill="#000" opacity="0.13"/>
<g opacity="0.42">
<rect x="305" y="180.90" width="200.00" height="9.30" fill="#b93d4f"/>
</g>
<rect x="305" y="181.60" width="200.00" height="7.9" fill="#b93d4f"/>
<rect x="305" y="181.60" width="200.00" height="0.8" fill="#000" opacity="0.13"/>
<rect x="305" y="188.70" width="200.00" height="0.8" fill="#000" opacity="0.13"/>
<g opacity="0.42">
<rect x="305" y="190.15" width="170.00" height="9.30" fill="#de8a60"/>
<rect x="475" y="190.15" width="30.00" height="9.30" fill="#b93d4f"/>
</g>
<rect x="305" y="190.85" width="170.00" height="7.9" fill="#de8a60"/>
<rect x="475" y="190.85" width="30.00" height="7.9" fill="#b93d4f"/>
<rect x="337.7" y="190.85" width="0.6" height="7.9" fill="#8a4020" opacity="0.55"/>
<rect x="401.5" y="190.85" width="0.6" height="7.9" fill="#8a4020" opacity="0.55"/>
<rect x="305" y="190.85" width="200.00" height="0.8" fill="#000" opacity="0.13"/>
<rect x="305" y="197.95" width="200.00" height="0.8" fill="#000" opacity="0.13"/>
<g opacity="0.42">
<rect x="305" y="199.40" width="1.50" height="9.30" fill="#120306"/>
<rect x="306.5" y="199.40" width="197.50" height="9.30" fill="#de8a60"/>
<rect x="504" y="199.40" width="1.00" height="9.30" fill="#120306"/>
</g>
<rect x="305" y="200.10" width="1.50" height="7.9" fill="#120306"/>
<rect x="306.5" y="200.10" width="197.50" height="7.9" fill="#de8a60"/>
<rect x="504" y="200.10" width="1.00" height="7.9" fill="#120306"/>
<rect x="305" y="200.10" width="200.00" height="0.8" fill="#000" opacity="0.13"/>
<rect x="305" y="207.20" width="200.00" height="0.8" fill="#000" opacity="0.13"/>
<g opacity="0.42">
<rect x="305" y="208.65" width="3.50" height="9.30" fill="#120306"/>
<rect x="308.5" y="208.65" width="144.50" height="9.30" fill="#de8a60"/>
<rect x="453" y="208.65" width="4.50" height="9.30" fill="#120306"/>
<rect x="457.5" y="208.65" width="47.50" height="9.30" fill="#b93d4f"/>
</g>
<rect x="305" y="209.35" width="3.50" height="7.9" fill="#120306"/>
<rect x="308.5" y="209.35" width="144.50" height="7.9" fill="#de8a60"/>
<rect x="453" y="209.35" width="4.50" height="7.9" fill="#120306"/>
<rect x="457.5" y="209.35" width="47.50" height="7.9" fill="#b93d4f"/>
<rect x="328.5" y="209.35" width="0.6" height="7.9" fill="#8a4020" opacity="0.55"/>
<rect x="378" y="209.35" width="0.6" height="7.9" fill="#8a4020" opacity="0.55"/>
<rect x="305" y="209.35" width="200.00" height="0.8" fill="#000" opacity="0.13"/>
<rect x="305" y="216.45" width="200.00" height="0.8" fill="#000" opacity="0.13"/>
<g opacity="0.42">
<rect x="305" y="217.90" width="2.00" height="9.30" fill="#120306"/>
<rect x="307" y="217.90" width="143.00" height="9.30" fill="#de8a60"/>
<rect x="450" y="217.90" width="2.50" height="9.30" fill="#120306"/>
<rect x="452.5" y="217.90" width="52.50" height="9.30" fill="#b93d4f"/>
</g>
<rect x="305" y="218.60" width="2.00" height="7.9" fill="#120306"/>
<rect x="307" y="218.60" width="143.00" height="7.9" fill="#de8a60"/>
<rect x="450" y="218.60" width="2.50" height="7.9" fill="#120306"/>
<rect x="452.5" y="218.60" width="52.50" height="7.9" fill="#b93d4f"/>
<rect x="333" y="218.60" width="0.6" height="7.9" fill="#8a4020" opacity="0.55"/>
<rect x="305" y="218.60" width="200.00" height="0.8" fill="#000" opacity="0.13"/>
<rect x="305" y="225.70" width="200.00" height="0.8" fill="#000" opacity="0.13"/>
<line x1="305.20" y1="226.50" x2="305.20" y2="229.30" stroke="#000" stroke-width="0.9"/>
<line x1="330.15" y1="226.50" x2="330.15" y2="229.30" stroke="#000" stroke-width="0.9"/>
<line x1="355.10" y1="226.50" x2="355.10" y2="229.30" stroke="#000" stroke-width="0.9"/>
<line x1="380.05" y1="226.50" x2="380.05" y2="229.30" stroke="#000" stroke-width="0.9"/>
<line x1="405.00" y1="226.50" x2="405.00" y2="229.30" stroke="#000" stroke-width="0.9"/>
<line x1="429.95" y1="226.50" x2="429.95" y2="229.30" stroke="#000" stroke-width="0.9"/>
<line x1="454.90" y1="226.50" x2="454.90" y2="229.30" stroke="#000" stroke-width="0.9"/>
<line x1="479.85" y1="226.50" x2="479.85" y2="229.30" stroke="#000" stroke-width="0.9"/>
<line x1="504.80" y1="226.50" x2="504.80" y2="229.30" stroke="#000" stroke-width="0.9"/>
<text x="305.20" y="239.8" font-size="8.0" text-anchor="middle" fill="#2c2c2c">0</text>
<text x="355.10" y="239.8" font-size="8.0" text-anchor="middle" fill="#2c2c2c">25</text>
<text x="405.00" y="239.8" font-size="8.0" text-anchor="middle" fill="#2c2c2c">50</text>
<text x="454.90" y="239.8" font-size="8.0" text-anchor="middle" fill="#2c2c2c">75</text>
<text x="504.80" y="239.8" font-size="8.0" text-anchor="middle" fill="#2c2c2c">100</text>
<text x="404.8" y="253.2" font-size="9.6" text-anchor="middle" fill="#2c2c2c" textLength="75.8" lengthAdjust="spacingAndGlyphs" stroke="#222" stroke-width="0.25">Sequence frequency (%)</text>
<text x="7.2" y="282.3" font-size="11.6" text-anchor="start" font-weight="bold" fill="#000">C</text>
<text x="64" y="295.35" font-size="8.2" text-anchor="end" fill="#2c2c2c" textLength="36.3" lengthAdjust="spacing">009-0249</text>
<rect x="67.9" y="287.35" width="71.50" height="10.60" fill="#a3032b" opacity="0.38"/>
<rect x="67.9" y="288.20" width="71.50" height="8.9" fill="#a3032b"/>
<rect x="67.9" y="288.20" width="71.50" height="0.8" fill="#000" opacity="0.2"/>
<rect x="67.9" y="296.30" width="71.50" height="0.8" fill="#000" opacity="0.2"/>
<text x="64" y="306.06" font-size="8.2" text-anchor="end" fill="#2c2c2c" textLength="36.3" lengthAdjust="spacing">009-0112</text>
<rect x="67.9" y="297.95" width="62.10" height="10.60" fill="#a3032b" opacity="0.38"/>
<rect x="67.9" y="298.80" width="62.10" height="8.9" fill="#a3032b"/>
<rect x="67.9" y="298.80" width="62.10" height="0.8" fill="#000" opacity="0.2"/>
<rect x="67.9" y="306.90" width="62.10" height="0.8" fill="#000" opacity="0.2"/>
<text x="64" y="316.77" font-size="8.2" text-anchor="end" fill="#2c2c2c" textLength="36.3" lengthAdjust="spacing">009-0231</text>
<rect x="67.9" y="308.55" width="53.50" height="10.60" fill="#a3032b" opacity="0.38"/>
<rect x="67.9" y="309.40" width="53.50" height="8.9" fill="#a3032b"/>
<rect x="67.9" y="309.40" width="53.50" height="0.8" fill="#000" opacity="0.2"/>
<rect x="67.9" y="317.50" width="53.50" height="0.8" fill="#000" opacity="0.2"/>
<text x="64" y="327.48" font-size="8.2" text-anchor="end" fill="#2c2c2c" textLength="36.3" lengthAdjust="spacing">009-0232</text>
<rect x="67.9" y="319.15" width="89.60" height="10.60" fill="#a3032b" opacity="0.38"/>
<rect x="67.9" y="320.00" width="89.60" height="8.9" fill="#a3032b"/>
<rect x="67.9" y="320.00" width="89.60" height="0.8" fill="#000" opacity="0.2"/>
<rect x="67.9" y="328.10" width="89.60" height="0.8" fill="#000" opacity="0.2"/>
<text x="64" y="338.19" font-size="8.2" text-anchor="end" fill="#2c2c2c" textLength="36.3" lengthAdjust="spacing">009-0209</text>
<rect x="67.9" y="329.75" width="61.30" height="10.60" fill="#a3032b" opacity="0.38"/>
<rect x="67.9" y="330.60" width="61.30" height="8.9" fill="#a3032b"/>
<rect x="67.9" y="330.60" width="61.30" height="0.8" fill="#000" opacity="0.2"/>
<rect x="67.9" y="338.70" width="61.30" height="0.8" fill="#000" opacity="0.2"/>
<text x="64" y="348.90" font-size="8.2" text-anchor="end" fill="#2c2c2c" textLength="36.3" lengthAdjust="spacing">009-0182</text>
<rect x="67.9" y="340.35" width="63.50" height="10.60" fill="#a3032b" opacity="0.38"/>
<rect x="67.9" y="341.20" width="63.50" height="8.9" fill="#a3032b"/>
<rect x="67.9" y="341.20" width="63.50" height="0.8" fill="#000" opacity="0.2"/>
<rect x="67.9" y="349.30" width="63.50" height="0.8" fill="#000" opacity="0.2"/>
<text x="64" y="359.61" font-size="8.2" text-anchor="end" fill="#2c2c2c" textLength="36.3" lengthAdjust="spacing">009-0122</text>
<rect x="67.9" y="350.95" width="79.90" height="10.60" fill="#a3032b" opacity="0.38"/>
<rect x="67.9" y="351.80" width="79.90" height="8.9" fill="#a3032b"/>
<rect x="67.9" y="351.80" width="79.90" height="0.8" fill="#000" opacity="0.2"/>
<rect x="67.9" y="359.90" width="79.90" height="0.8" fill="#000" opacity="0.2"/>
<text x="64" y="370.32" font-size="8.2" text-anchor="end" fill="#2c2c2c" textLength="36.3" lengthAdjust="spacing">009-0202</text>
<rect x="67.9" y="361.55" width="107.10" height="10.60" fill="#a3032b" opacity="0.38"/>
<rect x="67.9" y="362.40" width="107.10" height="8.9" fill="#a3032b"/>
<rect x="67.9" y="362.40" width="107.10" height="0.8" fill="#000" opacity="0.2"/>
<rect x="67.9" y="370.50" width="107.10" height="0.8" fill="#000" opacity="0.2"/>
<text x="64" y="381.03" font-size="8.2" text-anchor="end" fill="#2c2c2c" textLength="36.3" lengthAdjust="spacing">009-0109</text>
<rect x="67.9" y="372.15" width="42.40" height="10.60" fill="#a3032b" opacity="0.38"/>
<rect x="67.9" y="373.00" width="42.40" height="8.9" fill="#a3032b"/>
<rect x="67.9" y="373.00" width="42.40" height="0.8" fill="#000" opacity="0.2"/>
<rect x="67.9" y="381.10" width="42.40" height="0.8" fill="#000" opacity="0.2"/>
<text x="64" y="391.74" font-size="8.2" text-anchor="end" fill="#2c2c2c" textLength="36.3" lengthAdjust="spacing">009-0210</text>
<text x="68.2" y="391.74" font-size="8.4" text-anchor="start" fill="#1e1e1e" textLength="10.6" lengthAdjust="spacingAndGlyphs">NA</text>
<text x="64" y="402.45" font-size="8.2" text-anchor="end" fill="#2c2c2c" textLength="36.3" lengthAdjust="spacing">009-0103</text>
<rect x="67.9" y="393.35" width="62.10" height="10.60" fill="#a3032b" opacity="0.38"/>
<rect x="67.9" y="394.20" width="62.10" height="8.9" fill="#a3032b"/>
<rect x="67.9" y="394.20" width="62.10" height="0.8" fill="#000" opacity="0.2"/>
<rect x="67.9" y="402.30" width="62.10" height="0.8" fill="#000" opacity="0.2"/>
<text x="64" y="413.16" font-size="8.2" text-anchor="end" fill="#2c2c2c" textLength="36.3" lengthAdjust="spacing">009-0128</text>
<rect x="67.9" y="403.95" width="112.50" height="10.60" fill="#a3032b" opacity="0.38"/>
<rect x="67.9" y="404.80" width="112.50" height="8.9" fill="#a3032b"/>
<rect x="67.9" y="404.80" width="112.50" height="0.8" fill="#000" opacity="0.2"/>
<rect x="67.9" y="412.90" width="112.50" height="0.8" fill="#000" opacity="0.2"/>
<text x="64" y="423.87" font-size="8.2" text-anchor="end" fill="#2c2c2c" textLength="36.3" lengthAdjust="spacing">009-0174</text>
<rect x="67.9" y="414.55" width="60.00" height="10.60" fill="#a3032b" opacity="0.38"/>
<rect x="67.9" y="415.40" width="60.00" height="8.9" fill="#a3032b"/>
<rect x="67.9" y="415.40" width="60.00" height="0.8" fill="#000" opacity="0.2"/>
<rect x="67.9" y="423.50" width="60.00" height="0.8" fill="#000" opacity="0.2"/>
<text x="64" y="434.58" font-size="8.2" text-anchor="end" fill="#2c2c2c" textLength="36.3" lengthAdjust="spacing">009-0186</text>
<rect x="67.9" y="425.15" width="57.30" height="10.60" fill="#a3032b" opacity="0.38"/>
<rect x="67.9" y="426.00" width="57.30" height="8.9" fill="#a3032b"/>
<rect x="67.9" y="426.00" width="57.30" height="0.8" fill="#000" opacity="0.2"/>
<rect x="67.9" y="434.10" width="57.30" height="0.8" fill="#000" opacity="0.2"/>
<text x="64" y="445.29" font-size="8.2" text-anchor="end" fill="#2c2c2c" textLength="36.3" lengthAdjust="spacing">009-0171</text>
<rect x="67.9" y="435.75" width="26.60" height="10.60" fill="#a3032b" opacity="0.38"/>
<rect x="67.9" y="436.60" width="26.60" height="8.9" fill="#a3032b"/>
<rect x="67.9" y="436.60" width="26.60" height="0.8" fill="#000" opacity="0.2"/>
<rect x="67.9" y="444.70" width="26.60" height="0.8" fill="#000" opacity="0.2"/>
<text x="64" y="456.00" font-size="8.2" text-anchor="end" fill="#2c2c2c" textLength="36.3" lengthAdjust="spacing">009-0184</text>
<rect x="67.9" y="446.35" width="21.10" height="10.60" fill="#a3032b" opacity="0.38"/>
<rect x="67.9" y="447.20" width="21.10" height="8.9" fill="#a3032b"/>
<rect x="67.9" y="447.20" width="21.10" height="0.8" fill="#000" opacity="0.2"/>
<rect x="67.9" y="455.30" width="21.10" height="0.8" fill="#000" opacity="0.2"/>
<text x="64" y="466.71" font-size="8.2" text-anchor="end" fill="#2c2c2c" textLength="36.3" lengthAdjust="spacing">009-0203</text>
<rect x="67.9" y="456.95" width="46.00" height="10.60" fill="#a3032b" opacity="0.38"/>
<rect x="67.9" y="457.80" width="46.00" height="8.9" fill="#a3032b"/>
<rect x="67.9" y="457.80" width="46.00" height="0.8" fill="#000" opacity="0.2"/>
<rect x="67.9" y="465.90" width="46.00" height="0.8" fill="#000" opacity="0.2"/>
<text x="64" y="477.42" font-size="8.2" text-anchor="end" fill="#2c2c2c" textLength="36.3" lengthAdjust="spacing">009-0192</text>
<rect x="67.9" y="467.55" width="24.90" height="10.60" fill="#a3032b" opacity="0.38"/>
<rect x="67.9" y="468.40" width="24.90" height="8.9" fill="#a3032b"/>
<rect x="67.9" y="468.40" width="24.90" height="0.8" fill="#000" opacity="0.2"/>
<rect x="67.9" y="476.50" width="24.90" height="0.8" fill="#000" opacity="0.2"/>
<text x="64" y="488.13" font-size="8.2" text-anchor="end" fill="#2c2c2c" textLength="36.3" lengthAdjust="spacing">009-0148</text>
<rect x="67.9" y="478.15" width="34.80" height="10.60" fill="#a3032b" opacity="0.38"/>
<rect x="67.9" y="479.00" width="34.80" height="8.9" fill="#a3032b"/>
<rect x="67.9" y="479.00" width="34.80" height="0.8" fill="#000" opacity="0.2"/>
<rect x="67.9" y="487.10" width="34.80" height="0.8" fill="#000" opacity="0.2"/>
<text x="68.8" y="502.1" font-size="8.6" text-anchor="middle" fill="#2c2c2c">0</text>
<text x="102.1" y="502.1" font-size="8.6" text-anchor="middle" fill="#2c2c2c" textLength="23.2" lengthAdjust="spacingAndGlyphs">10000</text>
<text x="137.7" y="502.1" font-size="8.6" text-anchor="middle" fill="#2c2c2c" textLength="23.2" lengthAdjust="spacingAndGlyphs">20000</text>
<text x="173.5" y="502.1" font-size="8.6" text-anchor="middle" fill="#2c2c2c" textLength="23.2" lengthAdjust="spacingAndGlyphs">30000</text>
<text x="102.6" y="515.6" font-size="9.4" fill="#222" stroke="#222" stroke-width="0.25" textLength="47.2" lengthAdjust="spacingAndGlyphs"><tspan font-style="italic" stroke-width="0.5">MYC</tspan> expression</text>
<text x="201.7" y="282.1" font-size="11.6" text-anchor="start" font-weight="bold" fill="#000">D</text>
<rect x="265.36" y="288.30" width="13.02" height="10.47" fill="#b0032c"/>
<rect x="395.52" y="288.30" width="13.02" height="10.47" fill="#b0032c"/>
<rect x="226.32" y="298.77" width="13.02" height="10.47" fill="#b0032c"/>
<rect x="213.30" y="309.24" width="13.02" height="10.47" fill="#b0032c"/>
<rect x="291.40" y="309.24" width="13.02" height="10.47" fill="#b0032c"/>
<rect x="356.48" y="309.24" width="13.02" height="10.47" fill="#b0032c"/>
<rect x="382.51" y="309.24" width="13.02" height="10.47" fill="#b0032c"/>
<rect x="395.52" y="309.24" width="13.02" height="10.47" fill="#b0032c"/>
<rect x="408.54" y="309.24" width="13.02" height="10.47" fill="#b0032c"/>
<rect x="421.56" y="309.24" width="13.02" height="10.47" fill="#b0032c"/>
<rect x="252.35" y="319.71" width="13.02" height="10.47" fill="#b0032c"/>
<rect x="291.40" y="319.71" width="13.02" height="10.47" fill="#b0032c"/>
<rect x="434.57" y="319.71" width="13.02" height="10.47" fill="#b0032c"/>
<rect x="330.44" y="330.18" width="13.02" height="10.47" fill="#b0032c"/>
<rect x="382.51" y="330.18" width="13.02" height="10.47" fill="#b0032c"/>
<rect x="395.52" y="330.18" width="13.02" height="10.47" fill="#b0032c"/>
<rect x="447.59" y="330.18" width="13.02" height="10.47" fill="#b0032c"/>
<rect x="226.32" y="340.65" width="13.02" height="10.47" fill="#b0032c"/>
<rect x="408.54" y="340.65" width="13.02" height="10.47" fill="#b0032c"/>
<rect x="421.56" y="340.65" width="13.02" height="10.47" fill="#b0032c"/>
<rect x="213.30" y="351.12" width="13.02" height="10.47" fill="#b0032c"/>
<rect x="226.32" y="351.12" width="13.02" height="10.47" fill="#b0032c"/>
<rect x="239.33" y="351.12" width="13.02" height="10.47" fill="#b0032c"/>
<rect x="278.38" y="351.12" width="13.02" height="10.47" fill="#b0032c"/>
<rect x="226.32" y="361.59" width="13.02" height="10.47" fill="#b0032c"/>
<rect x="252.35" y="361.59" width="13.02" height="10.47" fill="#b0032c"/>
<rect x="265.36" y="361.59" width="13.02" height="10.47" fill="#b0032c"/>
<rect x="291.40" y="361.59" width="13.02" height="10.47" fill="#b0032c"/>
<rect x="395.52" y="361.59" width="13.02" height="10.47" fill="#b0032c"/>
<rect x="421.56" y="361.59" width="13.02" height="10.47" fill="#b0032c"/>
<rect x="239.33" y="372.06" width="13.02" height="10.47" fill="#b0032c"/>
<rect x="252.35" y="372.06" width="13.02" height="10.47" fill="#b0032c"/>
<line x1="213.50" y1="287.90" x2="213.50" y2="383.10" stroke="#000" stroke-width="1.2"/>
<line x1="226.50" y1="287.90" x2="226.50" y2="383.10" stroke="#000" stroke-width="1.2"/>
<line x1="239.50" y1="287.90" x2="239.50" y2="383.10" stroke="#000" stroke-width="1.2"/>
<line x1="252.50" y1="287.90" x2="252.50" y2="383.10" stroke="#000" stroke-width="1.2"/>
<line x1="265.50" y1="287.90" x2="265.50" y2="383.10" stroke="#000" stroke-width="1.2"/>
<line x1="278.50" y1="287.90" x2="278.50" y2="383.10" stroke="#000" stroke-width="1.2"/>
<line x1="291.50" y1="287.90" x2="291.50" y2="383.10" stroke="#000" stroke-width="1.2"/>
<line x1="304.50" y1="287.90" x2="304.50" y2="383.10" stroke="#000" stroke-width="1.2"/>
<line x1="317.50" y1="287.90" x2="317.50" y2="383.10" stroke="#000" stroke-width="1.2"/>
<line x1="330.50" y1="287.90" x2="330.50" y2="383.10" stroke="#000" stroke-width="1.2"/>
<line x1="343.50" y1="287.90" x2="343.50" y2="383.10" stroke="#000" stroke-width="1.2"/>
<line x1="356.50" y1="287.90" x2="356.50" y2="383.10" stroke="#000" stroke-width="1.2"/>
<line x1="369.50" y1="287.90" x2="369.50" y2="383.10" stroke="#000" stroke-width="1.2"/>
<line x1="382.50" y1="287.90" x2="382.50" y2="383.10" stroke="#000" stroke-width="1.2"/>
<line x1="395.50" y1="287.90" x2="395.50" y2="383.10" stroke="#000" stroke-width="1.2"/>
<line x1="408.50" y1="287.90" x2="408.50" y2="383.10" stroke="#000" stroke-width="1.2"/>
<line x1="421.50" y1="287.90" x2="421.50" y2="383.10" stroke="#000" stroke-width="1.2"/>
<line x1="434.50" y1="287.90" x2="434.50" y2="383.10" stroke="#000" stroke-width="1.2"/>
<line x1="447.50" y1="287.90" x2="447.50" y2="383.10" stroke="#000" stroke-width="1.2"/>
<line x1="460.50" y1="287.90" x2="460.50" y2="383.10" stroke="#000" stroke-width="1.2"/>
<line x1="212.90" y1="288.50" x2="461.10" y2="288.50" stroke="#000" stroke-width="1.2"/>
<line x1="212.90" y1="298.50" x2="461.10" y2="298.50" stroke="#000" stroke-width="1.2"/>
<line x1="212.90" y1="309.50" x2="461.10" y2="309.50" stroke="#000" stroke-width="1.2"/>
<line x1="212.90" y1="319.50" x2="461.10" y2="319.50" stroke="#000" stroke-width="1.2"/>
<line x1="212.90" y1="330.50" x2="461.10" y2="330.50" stroke="#000" stroke-width="1.2"/>
<line x1="212.90" y1="340.50" x2="461.10" y2="340.50" stroke="#000" stroke-width="1.2"/>
<line x1="212.90" y1="351.50" x2="461.10" y2="351.50" stroke="#000" stroke-width="1.2"/>
<line x1="212.90" y1="361.50" x2="461.10" y2="361.50" stroke="#000" stroke-width="1.2"/>
<line x1="212.90" y1="372.50" x2="461.10" y2="372.50" stroke="#000" stroke-width="1.2"/>
<line x1="212.90" y1="382.50" x2="461.10" y2="382.50" stroke="#000" stroke-width="1.2"/>
<rect x="252.35" y="393.20" width="13.02" height="10.47" fill="#b0032c"/>
<rect x="265.36" y="393.20" width="13.02" height="10.47" fill="#b0032c"/>
<rect x="278.38" y="393.20" width="13.02" height="10.47" fill="#b0032c"/>
<rect x="239.33" y="403.67" width="13.02" height="10.47" fill="#b0032c"/>
<rect x="252.35" y="403.67" width="13.02" height="10.47" fill="#b0032c"/>
<rect x="278.38" y="403.67" width="13.02" height="10.47" fill="#b0032c"/>
<rect x="291.40" y="403.67" width="13.02" height="10.47" fill="#b0032c"/>
<rect x="369.49" y="403.67" width="13.02" height="10.47" fill="#b0032c"/>
<rect x="434.57" y="403.67" width="13.02" height="10.47" fill="#b0032c"/>
<rect x="343.46" y="414.14" width="13.02" height="10.47" fill="#b0032c"/>
<rect x="356.48" y="414.14" width="13.02" height="10.47" fill="#b0032c"/>
<rect x="369.49" y="414.14" width="13.02" height="10.47" fill="#b0032c"/>
<rect x="213.30" y="424.61" width="13.02" height="10.47" fill="#b0032c"/>
<rect x="226.32" y="424.61" width="13.02" height="10.47" fill="#b0032c"/>
<rect x="239.33" y="424.61" width="13.02" height="10.47" fill="#b0032c"/>
<rect x="304.41" y="424.61" width="13.02" height="10.47" fill="#b0032c"/>
<rect x="317.43" y="424.61" width="13.02" height="10.47" fill="#b0032c"/>
<rect x="213.30" y="435.08" width="13.02" height="10.47" fill="#b0032c"/>
<rect x="343.46" y="435.08" width="13.02" height="10.47" fill="#b0032c"/>
<rect x="239.33" y="445.55" width="13.02" height="10.47" fill="#b0032c"/>
<rect x="291.40" y="445.55" width="13.02" height="10.47" fill="#b0032c"/>
<rect x="304.41" y="445.55" width="13.02" height="10.47" fill="#b0032c"/>
<rect x="317.43" y="445.55" width="13.02" height="10.47" fill="#b0032c"/>
<rect x="330.44" y="445.55" width="13.02" height="10.47" fill="#b0032c"/>
<rect x="239.33" y="456.02" width="13.02" height="10.47" fill="#b0032c"/>
<rect x="291.40" y="456.02" width="13.02" height="10.47" fill="#b0032c"/>
<rect x="330.44" y="456.02" width="13.02" height="10.47" fill="#b0032c"/>
<rect x="434.57" y="466.49" width="13.02" height="10.47" fill="#b0032c"/>
<rect x="447.59" y="466.49" width="13.02" height="10.47" fill="#b0032c"/>
<rect x="239.33" y="476.96" width="13.02" height="10.47" fill="#b0032c"/>
<line x1="213.50" y1="392.90" x2="213.50" y2="488.10" stroke="#000" stroke-width="1.2"/>
<line x1="226.50" y1="392.90" x2="226.50" y2="488.10" stroke="#000" stroke-width="1.2"/>
<line x1="239.50" y1="392.90" x2="239.50" y2="488.10" stroke="#000" stroke-width="1.2"/>
<line x1="252.50" y1="392.90" x2="252.50" y2="488.10" stroke="#000" stroke-width="1.2"/>
<line x1="265.50" y1="392.90" x2="265.50" y2="488.10" stroke="#000" stroke-width="1.2"/>
<line x1="278.50" y1="392.90" x2="278.50" y2="488.10" stroke="#000" stroke-width="1.2"/>
<line x1="291.50" y1="392.90" x2="291.50" y2="488.10" stroke="#000" stroke-width="1.2"/>
<line x1="304.50" y1="392.90" x2="304.50" y2="488.10" stroke="#000" stroke-width="1.2"/>
<line x1="317.50" y1="392.90" x2="317.50" y2="488.10" stroke="#000" stroke-width="1.2"/>
<line x1="330.50" y1="392.90" x2="330.50" y2="488.10" stroke="#000" stroke-width="1.2"/>
<line x1="343.50" y1="392.90" x2="343.50" y2="488.10" stroke="#000" stroke-width="1.2"/>
<line x1="356.50" y1="392.90" x2="356.50" y2="488.10" stroke="#000" stroke-width="1.2"/>
<line x1="369.50" y1="392.90" x2="369.50" y2="488.10" stroke="#000" stroke-width="1.2"/>
<line x1="382.50" y1="392.90" x2="382.50" y2="488.10" stroke="#000" stroke-width="1.2"/>
<line x1="395.50" y1="392.90" x2="395.50" y2="488.10" stroke="#000" stroke-width="1.2"/>
<line x1="408.50" y1="392.90" x2="408.50" y2="488.10" stroke="#000" stroke-width="1.2"/>
<line x1="421.50" y1="392.90" x2="421.50" y2="488.10" stroke="#000" stroke-width="1.2"/>
<line x1="434.50" y1="392.90" x2="434.50" y2="488.10" stroke="#000" stroke-width="1.2"/>
<line x1="447.50" y1="392.90" x2="447.50" y2="488.10" stroke="#000" stroke-width="1.2"/>
<line x1="460.50" y1="392.90" x2="460.50" y2="488.10" stroke="#000" stroke-width="1.2"/>
<line x1="212.90" y1="393.50" x2="461.10" y2="393.50" stroke="#000" stroke-width="1.2"/>
<line x1="212.90" y1="403.50" x2="461.10" y2="403.50" stroke="#000" stroke-width="1.2"/>
<line x1="212.90" y1="414.50" x2="461.10" y2="414.50" stroke="#000" stroke-width="1.2"/>
<line x1="212.90" y1="424.50" x2="461.10" y2="424.50" stroke="#000" stroke-width="1.2"/>
<line x1="212.90" y1="435.50" x2="461.10" y2="435.50" stroke="#000" stroke-width="1.2"/>
<line x1="212.90" y1="445.50" x2="461.10" y2="445.50" stroke="#000" stroke-width="1.2"/>
<line x1="212.90" y1="456.50" x2="461.10" y2="456.50" stroke="#000" stroke-width="1.2"/>
<line x1="212.90" y1="466.50" x2="461.10" y2="466.50" stroke="#000" stroke-width="1.2"/>
<line x1="212.90" y1="476.50" x2="461.10" y2="476.50" stroke="#000" stroke-width="1.2"/>
<line x1="212.90" y1="487.50" x2="461.10" y2="487.50" stroke="#000" stroke-width="1.2"/>
<text x="217.31" y="490.9" font-size="8" fill="#222" transform="rotate(90 217.31 490.9)">NOTCH1</text>
<text x="230.32" y="490.9" font-size="8" fill="#222" transform="rotate(90 230.32 490.9)">ID3</text>
<text x="243.34" y="490.9" font-size="8" fill="#222" transform="rotate(90 243.34 490.9)">TP53</text>
<text x="256.36" y="490.9" font-size="8" fill="#222" transform="rotate(90 256.36 490.9)">RRM2</text>
<text x="269.37" y="490.9" font-size="8" fill="#222" transform="rotate(90 269.37 490.9)">ACTR10</text>
<text x="282.39" y="490.9" font-size="8" fill="#222" transform="rotate(90 282.39 490.9)">SMARCA4</text>
<text x="295.40" y="490.9" font-size="8" fill="#222" transform="rotate(90 295.40 490.9)">POMC</text>
<text x="308.42" y="490.9" font-size="8" fill="#222" transform="rotate(90 308.42 490.9)">BMPR2</text>
<text x="321.44" y="490.9" font-size="8" fill="#222" transform="rotate(90 321.44 490.9)">ABCD4</text>
<text x="334.45" y="490.9" font-size="8" fill="#222" transform="rotate(90 334.45 490.9)">PAX5</text>
<text x="347.47" y="490.9" font-size="8" fill="#222" transform="rotate(90 347.47 490.9)">TBC1D10B</text>
<text x="360.48" y="490.9" font-size="8" fill="#222" transform="rotate(90 360.48 490.9)">SEPSECS</text>
<text x="373.50" y="490.9" font-size="8" fill="#222" transform="rotate(90 373.50 490.9)">TFAP4</text>
<text x="386.52" y="490.9" font-size="8" fill="#222" transform="rotate(90 386.52 490.9)">HK3</text>
<text x="399.53" y="490.9" font-size="8" fill="#222" transform="rotate(90 399.53 490.9)">ATAD3C</text>
<text x="412.55" y="490.9" font-size="8" fill="#222" transform="rotate(90 412.55 490.9)">ZNF587</text>
<text x="425.56" y="490.9" font-size="8" fill="#222" transform="rotate(90 425.56 490.9)">FOXO1</text>
<text x="438.58" y="490.9" font-size="8" fill="#222" transform="rotate(90 438.58 490.9)">COL6A3</text>
<text x="451.60" y="490.9" font-size="8" fill="#222" transform="rotate(90 451.60 490.9)">BSCL2</text>
<rect x="0" y="0" width="520" height="1.5" fill="#000"/>
<rect x="0" y="0" width="1.6" height="541" fill="#000"/>
<rect x="518.8" y="0" width="1.2" height="541" fill="#000"/>
<rect x="0" y="539" width="520" height="2" fill="#000"/>
</svg></body></html>
